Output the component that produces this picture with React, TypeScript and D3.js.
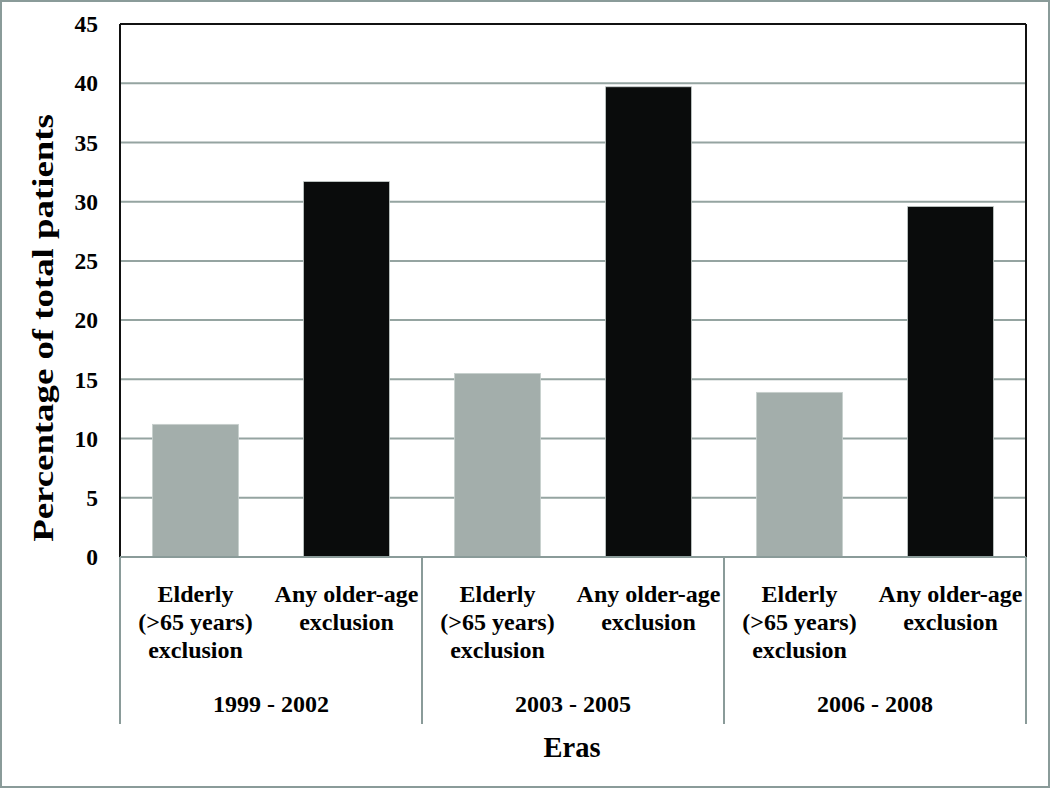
import React from "react";
import * as d3 from "d3";

const eras = ["1999 - 2002", "2003 - 2005", "2006 - 2008"];
const subCategories = [["Elderly", "(>65 years)", "exclusion"], ["Any older-age", "exclusion"]];
const elderlyValues = [11.2, 15.5, 13.9];
const anyOlderValues = [31.7, 39.7, 29.6];
const yTicks = [0, 5, 10, 15, 20, 25, 30, 35, 40, 45];

const W = 1050, H = 788;
const left = 120, right = 1026, top = 24, bottom = 557;
const FONT = "Liberation Serif, DejaVu Serif, serif";

export default function App() {
  const bars = eras.flatMap((era, i) => [
    { key: `${era}-0`, era, sub: 0, value: elderlyValues[i] },
    { key: `${era}-1`, era, sub: 1, value: anyOlderValues[i] },
  ]);
  const x = d3.scaleBand<string>().domain(bars.map(b => b.key)).range([left, right]).paddingInner(0.43).paddingOuter(0.215);
  const xEra = d3.scaleBand<string>().domain(eras).range([left, right]);
  const y = d3.scaleLinear().domain([0, 45]).range([bottom, top]);
  const colors = ["#a3aeab", "#0a0c0c"];
  const ts: React.CSSProperties = { fontFamily: FONT, fontWeight: "bold" };

  return (
    <svg width={W} height={H} style={{ position: "absolute", left: 0, top: 0, background: "#fff" }}>
      <rect x={1} y={1} width={W - 2} height={H - 2} fill="#fff" stroke="#8a9b99" strokeWidth={2} />
      {yTicks.slice(1).map(t => (
        <line key={t} x1={left} x2={right} y1={y(t)} y2={y(t)} stroke="#95a4a1" strokeWidth={2} />
      ))}
      {bars.map(b => (
        <rect key={b.key} x={x(b.key)} y={y(b.value)} width={x.bandwidth()} height={y(0) - y(b.value)}
          fill={colors[b.sub]} stroke="#c8d0ce" strokeWidth={0.8} />
      ))}
      <line x1={left} x2={right} y1={top} y2={top} stroke="#111" strokeWidth={2} />
      <line x1={left} x2={left} y1={top} y2={bottom} stroke="#111" strokeWidth={2} />
      <line x1={right} x2={right} y1={top} y2={bottom} stroke="#111" strokeWidth={2} />
      <line x1={left} x2={right} y1={bottom} y2={bottom} stroke="#8a9b99" strokeWidth={2} />
      {yTicks.map(t => (
        <text key={t} x={98} y={y(t)} dy="0.35em" textAnchor="end" fontSize={23.5} style={ts} fill="#000">{t}</text>
      ))}
      {[...eras.map(e => xEra(e)!), right].map((xx, i) => (
        <line key={i} x1={xx} x2={xx} y1={bottom} y2={724} stroke="#8a9b99" strokeWidth={2} />
      ))}
      {bars.map(b => {
        const cx = x(b.key)! + x.bandwidth() / 2;
        return (
          <text key={b.key} textAnchor="middle" fontSize={24} style={ts} fill="#000">
            {subCategories[b.sub].map((line, j) => (
              <tspan key={j} x={cx} y={602 + j * 28}>{line}</tspan>
            ))}
          </text>
        );
      })}
      {eras.map(e => (
        <text key={e} x={xEra(e)! + xEra.bandwidth() / 2} y={712} textAnchor="middle" fontSize={24} style={ts} fill="#000">{e}</text>
      ))}
      <text transform="translate(53,328) rotate(-90) scale(1.27,1)" textAnchor="middle" fontSize={29} style={ts} fill="#000">Percentage of total patients</text>
      <text x={572} y={757} textAnchor="middle" fontSize={28.5} style={ts} fill="#000">Eras</text>
    </svg>
  );
}
